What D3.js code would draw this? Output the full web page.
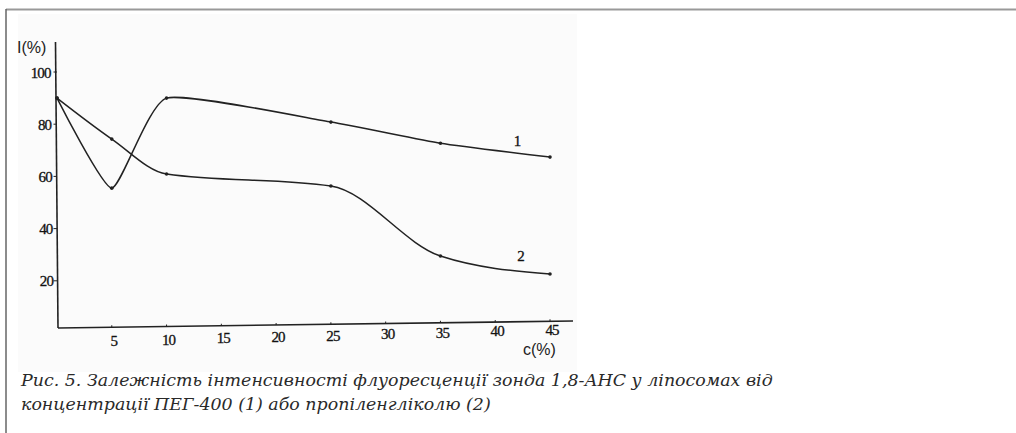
<!DOCTYPE html>
<html>
<head>
<meta charset="utf-8">
<script src="https://cdn.jsdelivr.net/npm/d3@7/dist/d3.min.js"></script>
<style>
  html, body { margin: 0; padding: 0; background: #fff; }
  svg { display: block; }
  .tick-label { font-family: "Liberation Serif", serif; font-size: 15px; fill: #111; stroke: #111; stroke-width: 0.3px; letter-spacing: -0.9px; }
  .axis-title { font-family: "Liberation Sans", sans-serif; font-size: 16px; fill: #222; }
  .caption { font-family: "DejaVu Serif", serif; font-style: italic; font-size: 17px; fill: #2a2a2a; }
</style>
</head>
<body>
<svg id="chart" width="1016" height="433"></svg>
<script>
  'use strict';

  // concentration c(%) and fluorescence intensity I(%)
  var concentration = [0, 5, 10, 25, 35, 45];
  var peg400 = [90, 55.5, 90, 80.8, 72.7, 67.4];
  var propyleneGlycol = [90, 74.3, 60.9, 56.3, 29.5, 22.6];

  var xTicks = [5, 10, 15, 20, 25, 30, 35, 40, 45];
  var yTicks = [20, 40, 60, 80, 100];
  var seriesLabels = ['1', '2'];
  var captionLines = [
    'Рис. 5. Залежність інтенсивності флуоресценції зонда 1,8-АНС у ліпосомах від',
    'концентрації ПЕГ-400 (1) або пропіленгліколю (2)'
  ];

  var svg = d3.select('#chart');

  var x = d3.scaleLinear().domain([0, 45]).range([57, 550]);
  var y = d3.scaleLinear().domain([0, 100]).range([333, 72]);

  // page frame
  svg.append('line').attr('x1', 6).attr('y1', 9.5).attr('x2', 1016).attr('y2', 9.5)
    .attr('stroke', '#999').attr('stroke-width', 2);
  svg.append('line').attr('x1', 6).attr('y1', 9).attr('x2', 6).attr('y2', 433)
    .attr('stroke', '#666').attr('stroke-width', 1.5);

  // scanned figure background
  svg.append('rect').attr('x', 18).attr('y', 14).attr('width', 559).attr('height', 358)
    .attr('fill', '#fbfbfb');

  // the scan is a bit tilted, x axis drops slightly to the left
  var tilt = 0.0136;
  var axisY = function(px) { return 328 - (px - 57) * tilt; };

  var g = svg.append('g');

  g.append('line').attr('x1', 55.5).attr('y1', 42).attr('x2', 58).attr('y2', axisY(58))
    .attr('stroke', '#222').attr('stroke-width', 1.6);
  g.append('line').attr('x1', 58).attr('y1', axisY(58)).attr('x2', 573).attr('y2', axisY(573))
    .attr('stroke', '#222').attr('stroke-width', 1.6);

  g.selectAll('.ytick').data(yTicks).enter().append('line')
    .attr('class', 'ytick')
    .attr('x1', 53.5).attr('x2', 57)
    .attr('y1', function(d) { return y(d); }).attr('y2', function(d) { return y(d); })
    .attr('stroke', '#222').attr('stroke-width', 1);

  g.selectAll('.ylab').data(yTicks).enter().append('text')
    .attr('class', 'tick-label')
    .attr('text-anchor', 'end')
    .attr('x', function(d) { return 50.5 + (y(d) - y(100)) / 209 * 2.5; })
    .attr('y', function(d) { return y(d) + 5.5; })
    .text(function(d) { return d; });

  g.selectAll('.xtick').data(xTicks).enter().append('line')
    .attr('class', 'xtick')
    .attr('x1', function(d) { return x(d); }).attr('x2', function(d) { return x(d); })
    .attr('y1', function(d) { return axisY(x(d)) - 2; }).attr('y2', function(d) { return axisY(x(d)); })
    .attr('stroke', '#222').attr('stroke-width', 1);

  g.selectAll('.xlab').data(xTicks).enter().append('text')
    .attr('class', 'tick-label')
    .attr('text-anchor', 'middle')
    .attr('x', function(d) { return x(d) + 2; })
    .attr('y', function(d) { return 346 - (x(d) - 113) * 0.025; })
    .text(function(d) { return d; });

  g.append('text').attr('class', 'axis-title').attr('x', 17).attr('y', 53).text('I(%)');
  g.append('text').attr('class', 'axis-title').attr('x', 523).attr('y', 355).text('c(%)');

  var series = [
    { values: peg400, curve: d3.curveCardinal.tension(0.5) },
    { values: propyleneGlycol, curve: d3.curveMonotoneX }
  ];

  series.forEach(function(s) {
    var pts = concentration.map(function(c, i) { return [c, s.values[i]]; });
    var line = d3.line()
      .x(function(d) { return x(d[0]); })
      .y(function(d) { return y(d[1]); })
      .curve(s.curve);

    g.append('path').datum(pts)
      .attr('d', line)
      .attr('fill', 'none')
      .attr('stroke', '#222')
      .attr('stroke-width', 1.5);

    g.selectAll(null).data(pts).enter().append('circle')
      .attr('cx', function(d) { return x(d[0]); })
      .attr('cy', function(d) { return y(d[1]); })
      .attr('r', 1.8)
      .attr('fill', '#222');
  });

  // series numbers near the right end of each curve
  g.selectAll('.snum').data(seriesLabels).enter().append('text')
    .attr('class', 'tick-label')
    .attr('x', function(d, i) { return x(i === 0 ? 41.7 : 42); })
    .attr('y', function(d, i) { return y(i === 0 ? 71.5 : 27.5); })
    .text(function(d) { return d; });

  var caption = svg.selectAll('.caption').data(captionLines).enter().append('text')
    .attr('class', 'caption')
    .attr('x', 21)
    .attr('y', function(d, i) { return 386 + i * 24; })
    .text(function(d) { return d; });

  // fit the first caption line to the width it has in the figure
  var w = caption.node().getComputedTextLength();
  if (w > 0) {
    caption.style('font-size', (17 * 752 / w) + 'px');
  }
</script>
</body>
</html>
